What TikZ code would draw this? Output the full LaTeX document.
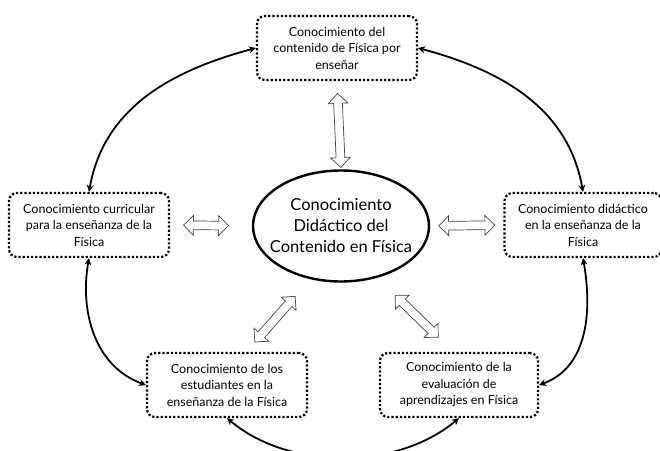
\documentclass[tikz,border=0pt]{standalone}
\usepackage{fontspec}
\setmainfont{Lato}
\usetikzlibrary{arrows.meta,shapes.geometric,shapes.arrows}

\tikzset{
  saber/.style={draw, dotted, line width=2.2pt, rounded corners=8pt,
    minimum width=160pt, minimum height=64pt, align=center, inner sep=2pt,
    font=\fontsize{12.5}{16.5}\selectfont},
  nucleo/.style={draw, ellipse, line width=2.4pt, minimum width=176pt,
    minimum height=111pt, align=center, inner xsep=-13pt, inner ysep=0pt,
    font=\fontsize{16.5}{21}\selectfont},
  enlace/.style={line width=1.8pt, {Stealth[length=7pt,width=7pt]}-{Stealth[length=7pt,width=7pt]}},
  doble/.style={double arrow, draw=black!75, fill=white, line width=0.7pt,
    inner sep=4pt, double arrow head extend=5.5pt, double arrow tip angle=90,
    sloped, transform shape}
}

\begin{document}
\begin{tikzpicture}[x=1pt, y=1pt]
\useasboundingbox (0,0) rectangle (660,450);
\node[nucleo] (C) at (341,224) {Conocimiento\\Didáctico del\\Contenido en Física};
\node[saber] (T) at (337,402) {Conocimiento del\\contenido de Física por\\enseñar};
\node[saber] (L) at (89,225) {Conocimiento curricular\\para la enseñanza de la\\Física};
\node[saber, minimum width=157pt] (R) at (583,225) {Conocimiento didáctico\\en la enseñanza de la\\Física};
\node[saber] (BL) at (227,65) {Conocimiento de los\\estudiantes en la\\enseñanza de la Física};
\node[saber, minimum width=158pt] (BR) at (459,65) {Conocimiento de la\\evaluación de\\aprendizajes en Física};
% enlaces entre saberes
\draw[enlace] (L.north) to[out=80, in=195] (T.west);
\draw[enlace] (R.north) to[out=100, in=-15] (T.east);
\draw[enlace] (L.south) to[out=-100, in=160] (BL.west);
\draw[enlace] (R.south) to[out=-80, in=20] (BR.east);
\draw[enlace] (BL.south) to[out=-40, in=-140, looseness=0.9] (BR.south);
% flechas huecas hacia el nucleo
\path (C.north) -- (T.south) node[doble, pos=0.44, minimum height=74pt] {};
\path (L.east) -- (C.west) node[doble, pos=0.44, minimum height=45pt] {};
\path (C.east) -- (R.west) node[doble, pos=0.5, minimum height=56pt] {};
\path (BL.60) -- (C.240) node[doble, pos=0.45, minimum height=61pt] {};
\path (C.305) -- (BR.100) node[doble, pos=0.52, minimum height=60pt] {};
\end{tikzpicture}
\end{document}
